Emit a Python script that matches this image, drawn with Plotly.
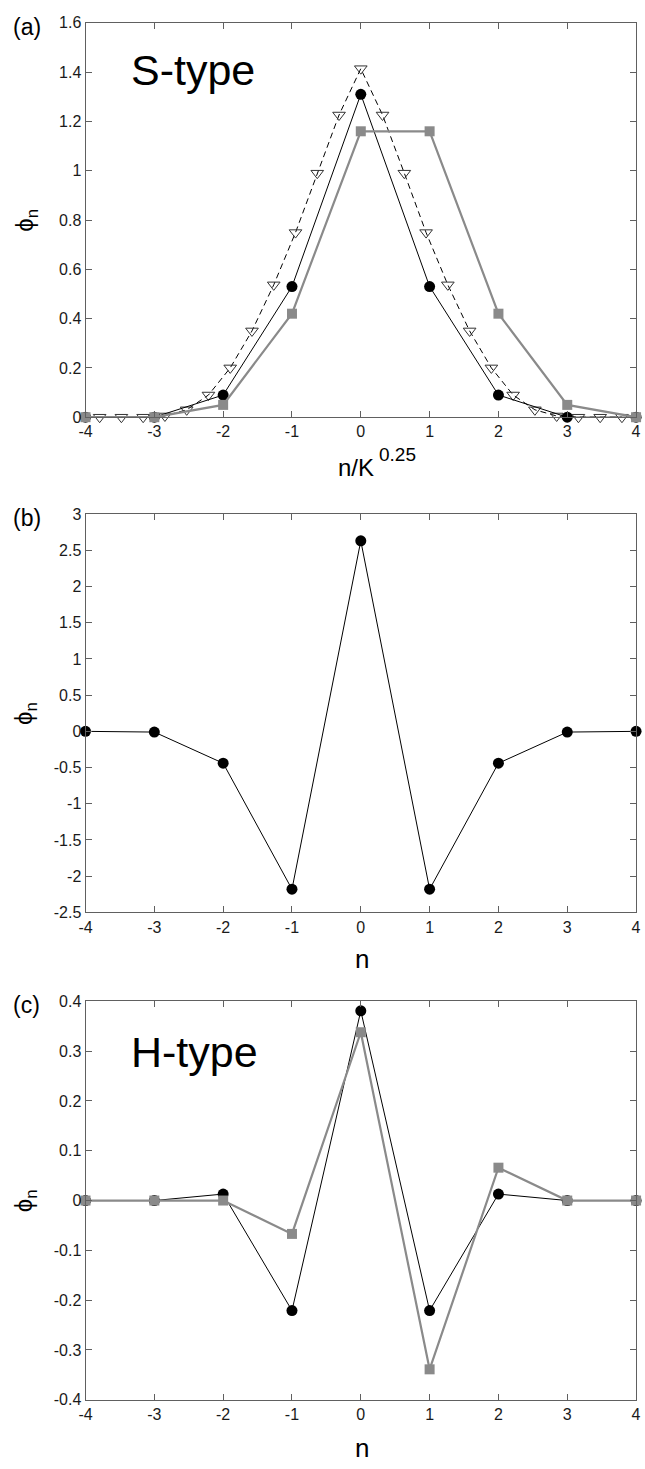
import plotly.graph_objects as go

# ---------------- data ----------------
n_int = [-4, -3, -2, -1, 0, 1, 2, 3, 4]

# (a) S-type
a_circle = [0.0, 0.0, 0.09, 0.53, 1.31, 0.53, 0.09, 0.0, 0.0]
a_square = [0.0, 0.0, 0.05, 0.42, 1.16, 1.16, 0.42, 0.05, 0.0]
K = 100.0
tri_n = list(range(-12, 13))
tri_x = [k / K ** 0.25 for k in tri_n]
tri_y = [0.0, 0.0, 0.0, 0.005, 0.03, 0.09, 0.2, 0.35, 0.537, 0.749, 0.99, 1.226, 1.414,
         1.226, 0.99, 0.749, 0.537, 0.35, 0.2, 0.09, 0.03, 0.005, 0.0, 0.0, 0.0]

# (b)
b_circle = [0.0, -0.01, -0.44, -2.18, 2.63, -2.18, -0.44, -0.01, 0.0]

# (c) H-type
c_circle = [0.0, 0.0, 0.013, -0.221, 0.381, -0.221, 0.013, 0.0, 0.0]
c_square = [0.0, 0.0, 0.0, -0.067, 0.338, -0.339, 0.066, 0.0, 0.0]

a_yticks = [0, 0.2, 0.4, 0.6, 0.8, 1, 1.2, 1.4, 1.6]
a_yticklabels = ["0", "0.2", "0.4", "0.6", "0.8", "1", "1.2", "1.4", "1.6"]
b_yticks = [-2.5, -2, -1.5, -1, -0.5, 0, 0.5, 1, 1.5, 2, 2.5, 3]
b_yticklabels = ["-2.5", "-2", "-1.5", "-1", "-0.5", "0", "0.5", "1", "1.5", "2", "2.5", "3"]
c_yticks = [-0.4, -0.3, -0.2, -0.1, 0, 0.1, 0.2, 0.3, 0.4]
c_yticklabels = ["-0.4", "-0.3", "-0.2", "-0.1", "0", "0.1", "0.2", "0.3", "0.4"]
x_ticks = [-4, -3, -2, -1, 0, 1, 2, 3, 4]
x_ticklabels = ["-4", "-3", "-2", "-1", "0", "1", "2", "3", "4"]

# ---------------- layout geometry ----------------
W, H = 645, 1469
FONT = "Liberation Sans, Arial, Helvetica, sans-serif"
GREY = "#8a8a8a"
AXC = "#606060"

def px_x(p):
    return p / W

def px_y(p):
    return 1 - p / H

xdom = [px_x(80), px_x(641)]
panels = [(15, 414), (512, 915), (1005, 1408)]

fig = go.Figure()

def circ(x, y, ax):
    return go.Scatter(x=x, y=y, mode="lines+markers", xaxis="x" + ax, yaxis="y" + ax,
                      line=dict(color="black", width=1),
                      marker=dict(symbol="circle", size=11, color="black"),
                      cliponaxis=False, showlegend=False)

def sq(x, y, ax):
    return go.Scatter(x=x, y=y, mode="lines+markers", xaxis="x" + ax, yaxis="y" + ax,
                      line=dict(color=GREY, width=2.2),
                      marker=dict(symbol="square", size=10, color=GREY),
                      cliponaxis=False, showlegend=False)

# panel (a)
fig.add_trace(go.Scatter(x=tri_x, y=tri_y, mode="lines+markers", xaxis="x", yaxis="y",
                         line=dict(color="black", width=1, dash="6px,4px"),
                         marker=dict(symbol="triangle-down-open", size=11,
                                     color="#333333", line=dict(width=1)),
                         cliponaxis=False, showlegend=False))
fig.add_trace(circ(n_int, a_circle, ""))
fig.add_trace(sq(n_int, a_square, ""))
# panel (b)
fig.add_trace(circ(n_int, b_circle, "2"))
# panel (c)
fig.add_trace(circ(n_int, c_circle, "3"))
fig.add_trace(sq(n_int, c_square, "3"))

def xaxis(anchor):
    return dict(domain=xdom, range=[-4, 4], anchor=anchor, tickmode="array",
                tickvals=x_ticks, ticktext=x_ticklabels, ticks="inside", ticklen=6,
                tickcolor=AXC, showline=True, linecolor=AXC, linewidth=1, mirror="ticks",
                showgrid=False, zeroline=False, ticklabeloverflow="allow",
                tickfont=dict(family=FONT, size=16, color="#1a1a1a"))

def yaxis(anchor, dom, rng, tv, tt):
    return dict(domain=dom, range=rng, anchor=anchor, tickmode="array",
                tickvals=tv, ticktext=tt, ticks="inside", ticklen=6,
                tickcolor=AXC, showline=True, linecolor=AXC, linewidth=1, mirror="ticks",
                showgrid=False, zeroline=False, ticklabeloverflow="allow",
                tickfont=dict(family=FONT, size=16, color="#1a1a1a"))

doms = [[px_y(b), px_y(t)] for (t, b) in panels]

fig.update_layout(
    autosize=True,
    margin=dict(l=0, r=0, t=0, b=0),
    paper_bgcolor="white", plot_bgcolor="white",
    xaxis=xaxis("y"),
    yaxis=yaxis("x", doms[0], [0, 1.6], a_yticks, a_yticklabels),
    xaxis2=xaxis("y2"),
    yaxis2=yaxis("x2", doms[1], [-2.5, 3], b_yticks, b_yticklabels),
    xaxis3=xaxis("y3"),
    yaxis3=yaxis("x3", doms[2], [-0.4, 0.4], c_yticks, c_yticklabels),
)

ann = []
# panel letters and y titles
for lab, (t, b) in zip(["(a)", "(b)", "(c)"], panels):
    ann.append(dict(text=lab, x=px_x(4), y=px_y(t + 4), xref="paper", yref="paper",
                    xanchor="left", yanchor="middle", showarrow=False,
                    font=dict(family=FONT, size=23, color="black")))
    ann.append(dict(text="ϕ<sub>n</sub>", x=px_x(19), y=px_y((t + b) / 2), xref="paper", yref="paper",
                    xanchor="center", yanchor="middle", showarrow=False, textangle=-90,
                    font=dict(family=FONT, size=24, color="black")))
# x titles
ann.append(dict(text="n/K", x=px_x(376), y=px_y(465), xref="paper", yref="paper",
                xanchor="right", yanchor="middle", showarrow=False,
                font=dict(family=FONT, size=24, color="black")))
ann.append(dict(text="0.25", x=px_x(377), y=px_y(452), xref="paper", yref="paper",
                xanchor="left", yanchor="middle", showarrow=False,
                font=dict(family=FONT, size=19, color="black")))
for yy in [962, 1457]:
    ann.append(dict(text="n", x=px_x(362), y=px_y(yy), xref="paper", yref="paper",
                    xanchor="center", yanchor="middle", showarrow=False,
                    font=dict(family=FONT, size=26, color="black")))
# type labels
ann.append(dict(text="S-type", x=px_x(124), y=px_y(63), xref="paper", yref="paper",
                xanchor="left", yanchor="middle", showarrow=False,
                font=dict(family=FONT, size=43, color="black")))
ann.append(dict(text="H-type", x=px_x(124), y=px_y(1056), xref="paper", yref="paper",
                xanchor="left", yanchor="middle", showarrow=False,
                font=dict(family=FONT, size=43, color="black")))
fig.update_layout(annotations=ann)

fig.write_html("out.html",
               config={"displayModeBar": False},
               default_width="645px;position:absolute;left:0;top:0",
               default_height="1469px")
